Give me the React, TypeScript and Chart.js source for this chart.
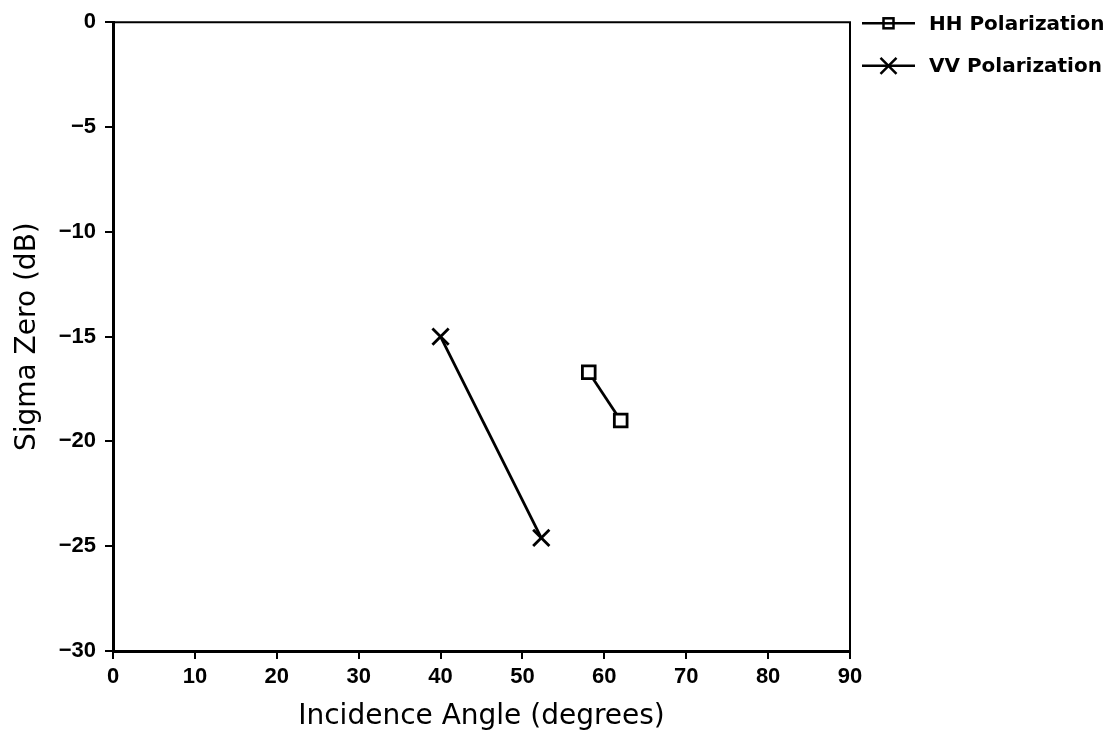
import React, { useEffect, useRef } from "react";
import { Chart, registerables } from "chart.js";

Chart.register(...registerables);

// Backscatter measurements: incidence angle (degrees) vs sigma zero (dB)
const hhAngles = [58.1, 62.0];
const hhSigma = [-16.7, -19.0];
const vvAngles = [40.0, 52.3];
const vvSigma = [-15.0, -24.6];

const seriesLabels = ["HH Polarization", "VV Polarization"];
const xTitle = "Incidence Angle (degrees)";
const yTitle = "Sigma Zero (dB)";

const xRange = [0, 90];
const xStep = 10;
const yRange = [-30, 0];
const yStep = 5;

const tickFont = { family: "'Liberation Sans', Arial, sans-serif", size: 22, weight: "bold" as const };
const titleFont = { family: "'DejaVu Sans', sans-serif", size: 28, weight: "normal" as const };

// Negative tick values use a true minus sign
const formatTick = (v: number | string) => {
  const n = Number(v);
  return n < 0 ? "\u2212" + Math.abs(n) : String(n);
};

// Closes the plot box on its top and right sides
const framePlugin = {
  id: "frameBox",
  afterDraw(chart: any) {
    const { ctx, chartArea } = chart;
    ctx.save();
    ctx.strokeStyle = "#000";
    ctx.lineWidth = 2;
    ctx.beginPath();
    ctx.moveTo(chartArea.left, chartArea.top);
    ctx.lineTo(chartArea.right, chartArea.top);
    ctx.lineTo(chartArea.right, chartArea.bottom);
    ctx.stroke();
    ctx.restore();
  },
};

// Key to the right of the plot: line sample with marker, then label
const sideLegendPlugin = {
  id: "sideLegend",
  afterDraw(chart: any) {
    const { ctx, chartArea } = chart;
    const x0 = chartArea.right + 12;
    const x1 = x0 + 53;
    const xm = (x0 + x1) / 2;
    chart.data.datasets.forEach((ds: any, i: number) => {
      const y = chartArea.top + 1 + i * 42.5;
      ctx.save();
      ctx.strokeStyle = "#000";
      ctx.lineWidth = 2.5;
      ctx.beginPath();
      ctx.moveTo(x0, y);
      ctx.lineTo(x1, y);
      ctx.stroke();
      if (ds.pointStyle === "rect") {
        ctx.fillStyle = "#fff";
        ctx.fillRect(xm - 5, y - 5, 10, 10);
        ctx.strokeRect(xm - 5, y - 5, 10, 10);
        ctx.beginPath();
        ctx.moveTo(xm - 5, y);
        ctx.lineTo(xm + 5, y);
        ctx.stroke();
      } else {
        ctx.beginPath();
        ctx.moveTo(xm - 8, y - 8);
        ctx.lineTo(xm + 8, y + 8);
        ctx.moveTo(xm - 8, y + 8);
        ctx.lineTo(xm + 8, y - 8);
        ctx.stroke();
      }
      ctx.font = "bold 20px 'DejaVu Sans', sans-serif";
      ctx.fillStyle = "#000";
      ctx.textAlign = "left";
      ctx.textBaseline = "middle";
      ctx.fillText(ds.label, x1 + 14, y + 1);
      ctx.restore();
    });
  },
};

export default function App() {
  const canvasRef = useRef<HTMLCanvasElement | null>(null);

  useEffect(() => {
    if (!canvasRef.current) return;
    const hhPoints = hhAngles.map((x, i) => ({ x, y: hhSigma[i] }));
    const vvPoints = vvAngles.map((x, i) => ({ x, y: vvSigma[i] }));

    const chart = new Chart(canvasRef.current, {
      type: "scatter",
      data: {
        datasets: [
          {
            label: seriesLabels[0],
            data: hhPoints,
            showLine: true,
            borderColor: "#000",
            borderWidth: 2.8,
            pointStyle: "rect",
            pointRadius: 9,
            pointBorderWidth: 2.8,
            pointBackgroundColor: "#fff",
            pointBorderColor: "#000",
          },
          {
            label: seriesLabels[1],
            data: vvPoints,
            showLine: true,
            borderColor: "#000",
            borderWidth: 2.8,
            pointStyle: "crossRot",
            pointRadius: 11.5,
            pointBorderWidth: 2.8,
            pointBorderColor: "#000",
          },
        ],
      },
      options: {
        animation: false,
        responsive: false,
        layout: { padding: { left: 0, top: 12, right: 258, bottom: 0 } },
        plugins: {
          legend: { display: false },
          tooltip: { enabled: false },
        },
        scales: {
          x: {
            type: "linear",
            min: xRange[0],
            max: xRange[1],
            afterFit: (s: any) => {
              s.height = 83;
              s.paddingLeft = 0;
              s.paddingRight = 0;
            },
            ticks: { stepSize: xStep, color: "#000", font: tickFont, padding: 5, maxRotation: 0, callback: formatTick },
            grid: { drawOnChartArea: false, drawTicks: true, tickLength: 8, color: "#000", lineWidth: 2 },
            border: { display: true, color: "#000", width: 3 },
            title: { display: true, text: xTitle, color: "#000", font: titleFont, padding: { top: 0, bottom: 0 } },
          },
          y: {
            type: "linear",
            min: yRange[0],
            max: yRange[1],
            afterFit: (s: any) => {
              s.width = 105;
              s.paddingTop = 0;
              s.paddingBottom = 0;
            },
            ticks: { stepSize: yStep, color: "#000", font: tickFont, padding: 9, callback: formatTick },
            grid: { drawOnChartArea: false, drawTicks: true, tickLength: 8, color: "#000", lineWidth: 2 },
            border: { display: true, color: "#000", width: 3 },
            title: { display: true, text: yTitle, color: "#000", font: titleFont, padding: { top: 3, bottom: 0 } },
          },
        },
      },
      plugins: [framePlugin, sideLegendPlugin],
    });

    return () => chart.destroy();
  }, []);

  return (
    <div style={{ width: 1100, height: 726, background: "#fff" }}>
      <canvas ref={canvasRef} width={1100} height={726} style={{ display: "block" }} />
    </div>
  );
}
